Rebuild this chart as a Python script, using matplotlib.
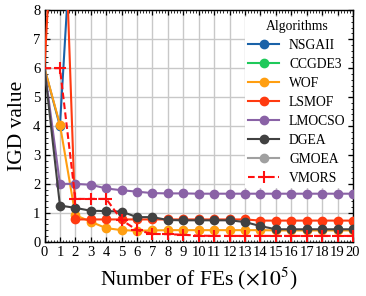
import matplotlib
matplotlib.use("Agg")
import matplotlib.pyplot as plt
from matplotlib.ticker import MultipleLocator

plt.rcParams['font.family'] = ['Liberation Serif', 'DejaVu Serif']
plt.rcParams['mathtext.fontset'] = 'stix'

x = list(range(21))
algorithms = ["NSGAII", "CCGDE3", "WOF", "LSMOF", "LMOCSO", "DGEA", "GMOEA", "VMORS"]

nsgaii = [6.0, 4.0, 13.0, 12.6, 12.2, 11.9, 11.5, 11.2, 11.0, 10.8, 10.6,
          10.4, 10.3, 10.1, 10.0, 9.9, 9.8, 9.7, 9.6, 9.5, 9.4]
ccgde3 = [14.0, 13.6, 13.3, 13.0, 12.8, 12.6, 12.4, 12.2, 12.1, 12.0, 11.9,
          11.8, 11.7, 11.6, 11.5, 11.4, 11.3, 11.2, 11.1, 11.0, 10.9]
wof = [6.0, 4.05, 0.92, 0.69, 0.47, 0.40, 0.38, 0.39, 0.40, 0.40, 0.40,
       0.40, 0.40, 0.40, 0.40, 0.39, 0.39, 0.39, 0.39, 0.39, 0.39]
lsmof = [6.0, 16.0, 0.77, 0.77, 0.77, 0.77, 0.77, 0.77, 0.77, 0.77, 0.77,
         0.77, 0.77, 0.77, 0.73, 0.73, 0.73, 0.73, 0.73, 0.73, 0.73]
lmocso = [6.0, 2.0, 2.0, 1.97, 1.84, 1.78, 1.73, 1.68, 1.67, 1.67, 1.66,
          1.66, 1.66, 1.66, 1.66, 1.66, 1.66, 1.66, 1.66, 1.66, 1.66]
dgea = [6.0, 1.25, 1.17, 1.07, 1.06, 1.04, 0.85, 0.85, 0.75, 0.74, 0.74,
        0.74, 0.74, 0.68, 0.54, 0.43, 0.43, 0.43, 0.43, 0.43, 0.43]
gmoea = [12.0, 11.6, 11.2, 10.9, 10.7, 10.5, 10.3, 10.2, 10.1, 10.0, 9.9,
         9.8, 9.7, 9.6, 9.5, 9.4, 9.3, 9.2, 9.1, 9.0, 8.9]
vmors = [6.0, 6.0, 1.48, 1.48, 1.48, 0.75, 0.40, 0.27, 0.26, 0.24, 0.21,
         0.20, 0.20, 0.20, 0.20, 0.20, 0.20, 0.20, 0.20, 0.20, 0.20]

series = [nsgaii, ccgde3, wof, lsmof, lmocso, dgea, gmoea, vmors]
colors = ['#1a62a8', '#1ec95a', '#ff9e10', '#ff3a10', '#8a62a6', '#414141', '#a0a0a0', '#ff1010']

xticks = list(range(0, 21))
yticks = list(range(0, 9))

fig = plt.figure(figsize=(3.66, 2.96), dpi=100)
ax = fig.add_axes([0.1216, 0.1834, 0.8429, 0.7818])

for name, ys, c in zip(algorithms, series, colors):
    if name == "VMORS":
        ax.plot(x, ys, color=c, linestyle=(0, (3.2, 1.6)), linewidth=1.5,
                marker='+', markersize=9, markeredgewidth=1.5,
                markevery=slice(1, None), label=name, zorder=5)
    else:
        ax.plot(x, ys, color=c, linewidth=1.5, marker='o', markersize=6,
                markevery=slice(1, None), label=name, zorder=3)

ax.set_xlim(0, 20)
ax.set_ylim(0, 8)
ax.set_xticks(xticks)
ax.set_yticks(yticks)
ax.xaxis.set_minor_locator(MultipleLocator(0.2))
ax.yaxis.set_minor_locator(MultipleLocator(0.2))
ax.tick_params(which='both', direction='in', top=True, right=True, labelsize=10.5, pad=3)
ax.tick_params(which='major', length=3.5, width=0.9)
ax.tick_params(which='minor', length=1.8, width=0.6)
ax.grid(True, which='major', color='#c8c8c8', linewidth=1.0, zorder=0)
ax.set_axisbelow(True)
for s in ax.spines.values():
    s.set_linewidth(1.0)

ax.set_xlabel(r"Number of FEs ($\times 10^5$)", fontsize=15.5, labelpad=5)
ax.set_ylabel("IGD value", fontsize=15.5, labelpad=4)

leg = ax.legend(title="Algorithms", loc='upper right', bbox_to_anchor=(1.0, 0.99),
                fontsize=9.8, title_fontsize=9.8,
                frameon=True, framealpha=1, edgecolor='none', fancybox=False,
                handlelength=2.3, handletextpad=0.7, labelspacing=0.44,
                borderaxespad=0.35, borderpad=0.2)
leg.set_zorder(10)

fig.savefig("out.png", dpi=100)
